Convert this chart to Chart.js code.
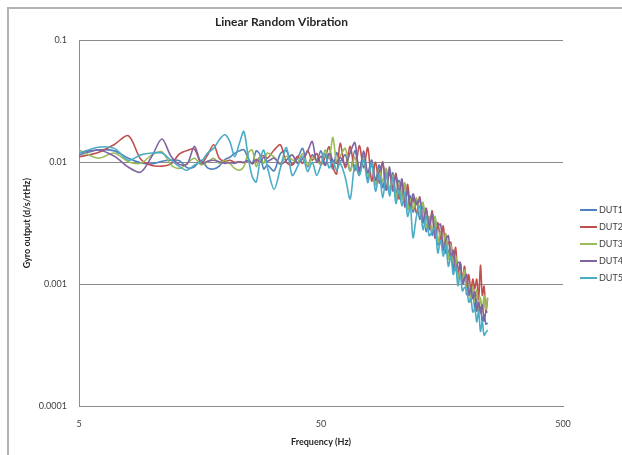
<!DOCTYPE html>
<html>
<head>
<meta charset="utf-8">
<script src="https://cdn.jsdelivr.net/npm/chart.js@4/dist/chart.umd.min.js"></script>
<style>
  html, body { margin: 0; padding: 0; background: #fff; }
  #wrap { position: relative; width: 622px; height: 455px; overflow: hidden; }
  #frame { position: absolute; left: 7px; top: 7px; width: 700px; height: 500px;
           border-top: 2px solid #b3b3b3; border-left: 2px solid #b3b3b3; }
  #plot { position: absolute; left: 0; top: 0; }
</style>
</head>
<body>
<div id="wrap">
  <div id="frame"></div>
  <canvas id="plot" width="622" height="455"></canvas>
</div>
<script>
// frequency bins (Hz)
const freqs = [5, 6, 7, 8, 9, 10, 11, 12, 13, 14, 15, 16, 17, 18, 19, 20, 21, 22, 23, 24, 25, 26, 27, 28, 29, 30,
  32, 34, 36, 38, 40, 42, 44, 46, 48, 50, 52, 54, 56, 58, 60,
  63, 66, 69, 72, 75, 78, 81, 84, 87, 90, 93, 96, 99, 102, 105, 108, 111, 114, 117, 120,
  124, 128, 132, 136, 140, 144, 148, 152, 156, 160, 164, 168, 172, 176, 180, 184, 188, 192, 196, 200,
  204, 208, 212, 216, 220, 224, 228, 232, 236, 240, 244];

const seriesNames = ['DUT1', 'DUT2', 'DUT3', 'DUT4', 'DUT5'];

const dut1 = [0.0115, 0.0126, 0.0124, 0.0108, 0.0099, 0.0097, 0.0102, 0.0104, 0.0103, 0.0090, 0.0092, 0.0104, 0.0090, 0.0088, 0.0093, 0.0105, 0.0110, 0.0118, 0.0124, 0.0127, 0.0108, 0.0098, 0.0124, 0.0115, 0.0088, 0.0095,
  0.0085, 0.0118, 0.0124, 0.0096, 0.0108, 0.0130, 0.0092, 0.0115, 0.0104, 0.0124, 0.0096, 0.0112, 0.0088, 0.0120, 0.0102,
  0.0115, 0.0085, 0.0125, 0.0088, 0.0114, 0.0073, 0.0096, 0.0071, 0.0095, 0.0062, 0.0085, 0.0058, 0.0082, 0.0055, 0.0071, 0.0052, 0.0065, 0.0041, 0.0053, 0.0039,
  0.0049, 0.0034, 0.0045, 0.0027, 0.0035, 0.0025, 0.0035, 0.0021, 0.0026, 0.0019, 0.0025, 0.0018, 0.0020, 0.0013, 0.0017, 0.0012, 0.0015, 0.0010, 0.0012, 0.00082,
  0.0010, 0.00080, 0.00097, 0.00063, 0.00075, 0.00060, 0.00065, 0.00049, 0.00056, 0.00047, 0.00048];

const dut2 = [0.0111, 0.0120, 0.0140, 0.0165, 0.0106, 0.0094, 0.0093, 0.0097, 0.0117, 0.0125, 0.0128, 0.0098, 0.0115, 0.0139, 0.0108, 0.0102, 0.0104, 0.0100, 0.0101, 0.0099, 0.0103, 0.0098, 0.0102, 0.0110, 0.0113, 0.0108,
  0.0126, 0.0139, 0.0100, 0.0095, 0.0112, 0.0098, 0.0125, 0.0104, 0.0118, 0.0096, 0.0110, 0.0134, 0.0092, 0.0080, 0.0143,
  0.0090, 0.0135, 0.0085, 0.0137, 0.0090, 0.0132, 0.0070, 0.0100, 0.0067, 0.0101, 0.0059, 0.0082, 0.0061, 0.0081, 0.0050, 0.0070, 0.0046, 0.0066, 0.0043, 0.0051,
  0.0038, 0.0052, 0.0032, 0.0042, 0.0028, 0.0040, 0.0024, 0.0032, 0.0023, 0.0030, 0.0018, 0.0022, 0.0022, 0.0015, 0.0020, 0.0012, 0.0015, 0.0011, 0.0014, 0.00092,
  0.0012, 0.00089, 0.0011, 0.00091, 0.0011, 0.00075, 0.00143, 0.00081, 0.00096, 0.00059, 0.00076];

const dut3 = [0.0126, 0.0108, 0.0119, 0.0101, 0.0098, 0.0115, 0.0122, 0.0095, 0.0089, 0.0098, 0.0108, 0.0095, 0.0101, 0.0108, 0.0098, 0.0104, 0.0098, 0.0089, 0.0086, 0.0092, 0.0119, 0.0126, 0.0092, 0.0111, 0.0098, 0.0119,
  0.0110, 0.0098, 0.0112, 0.0105, 0.0100, 0.0118, 0.0094, 0.0110, 0.0103, 0.0096, 0.0126, 0.0108, 0.0160, 0.0100, 0.0112,
  0.0130, 0.0085, 0.0110, 0.0078, 0.0119, 0.0077, 0.0100, 0.0065, 0.0087, 0.0070, 0.0089, 0.0057, 0.0078, 0.0051, 0.0068, 0.0049, 0.0068, 0.0041, 0.0050, 0.0041,
  0.0051, 0.0038, 0.0047, 0.0029, 0.0036, 0.0027, 0.0036, 0.0022, 0.0027, 0.0021, 0.0026, 0.0016, 0.0021, 0.0015, 0.0017, 0.0011, 0.0013, 0.0011, 0.0013, 0.00087,
  0.0010, 0.00071, 0.00097, 0.00071, 0.00090, 0.00060, 0.00078, 0.00059, 0.00081, 0.00062, 0.00078];

const dut4 = [0.0119, 0.0126, 0.0112, 0.0091, 0.0083, 0.0112, 0.0155, 0.0112, 0.0096, 0.0097, 0.0135, 0.0098, 0.0102, 0.0104, 0.0101, 0.0098, 0.0099, 0.0098, 0.0101, 0.0100, 0.0104, 0.0097, 0.0106, 0.0100, 0.0110, 0.0102,
  0.0108, 0.0096, 0.0104, 0.0115, 0.0098, 0.0107, 0.0123, 0.0148, 0.0100, 0.0112, 0.0094, 0.0118, 0.0104, 0.0098, 0.0110,
  0.0095, 0.0120, 0.0145, 0.0083, 0.0124, 0.0082, 0.0104, 0.0071, 0.0083, 0.0098, 0.0059, 0.0092, 0.0058, 0.0078, 0.0056, 0.0073, 0.0043, 0.0059, 0.0041, 0.0055,
  0.0045, 0.0050, 0.0032, 0.0041, 0.0030, 0.0038, 0.0024, 0.0030, 0.0031, 0.0019, 0.0023, 0.0025, 0.0016, 0.0019, 0.0013, 0.0015, 0.0015, 0.0010, 0.0011, 0.0012,
  0.00081, 0.00093, 0.00076, 0.00087, 0.00060, 0.00071, 0.00058, 0.00068, 0.00050, 0.00059, 0.00059];

const dut5 = [0.0119, 0.0133, 0.0130, 0.0104, 0.0115, 0.0119, 0.0119, 0.0104, 0.0092, 0.0086, 0.0095, 0.0101, 0.0119, 0.0130, 0.0153, 0.0168, 0.0148, 0.0111, 0.0143, 0.0179, 0.0111, 0.0076, 0.0069, 0.0104, 0.0126, 0.0092,
  0.0060, 0.0090, 0.0132, 0.0078, 0.0092, 0.0112, 0.0084, 0.0100, 0.0078, 0.0095, 0.0118, 0.0090, 0.0102, 0.0086, 0.0098,
  0.0075, 0.0050, 0.0095, 0.0078, 0.0105, 0.0068, 0.0100, 0.0058, 0.0079, 0.0051, 0.0078, 0.0053, 0.0075, 0.0046, 0.0059, 0.0044, 0.0057, 0.0036, 0.0043, 0.0024,
  0.0036, 0.0044, 0.0028, 0.0036, 0.0025, 0.0027, 0.0029, 0.0018, 0.0023, 0.0017, 0.0021, 0.0014, 0.0017, 0.0012, 0.0014, 0.00097, 0.0012, 0.00088, 0.00094, 0.00092,
  0.00071, 0.00076, 0.00059, 0.00063, 0.00049, 0.00060, 0.00041, 0.00049, 0.00038, 0.00040, 0.00042];

const seriesColors = ['#4f81bd', '#c0504d', '#9bbb59', '#8064a2', '#4bacc6'];

const xTicks = [5, 50, 500];
const yTicks = [0.0001, 0.001, 0.01, 0.1];
const yTickLabels = ['0.0001', '0.001', '0.01', '0.1'];

const FONT = 'Lato, "Open Sans", sans-serif';
const gridGray = '#8c8c8c';
const textGray = '#404040';

const allSeries = [dut1, dut2, dut3, dut4, dut5];
const datasets = allSeries.map((vals, i) => ({
  label: seriesNames[i],
  data: freqs.map((f, j) => ({ x: f, y: vals[j] })),
  borderColor: seriesColors[i],
  borderWidth: 1.6,
  pointRadius: 0,
  tension: 0.3,
  fill: false,
  order: allSeries.length - i   // last series ends up on top
}));

// legend drawn as a plain column to the right of the plot
const sideLegend = {
  id: 'sideLegend',
  afterDraw(chart) {
    const ctx = chart.ctx;
    ctx.save();
    ctx.font = '9px ' + FONT;
    ctx.textBaseline = 'middle';
    ctx.textAlign = 'left';
    chart.data.datasets.forEach((ds, i) => {
      const y = 210 + i * 17;
      ctx.strokeStyle = ds.borderColor;
      ctx.lineWidth = 2;
      ctx.beginPath();
      ctx.moveTo(580, y);
      ctx.lineTo(597, y);
      ctx.stroke();
      ctx.fillStyle = textGray;
      ctx.fillText(ds.label, 599, y + 0.5);
    });
    ctx.restore();
  }
};

new Chart(document.getElementById('plot'), {
  type: 'line',
  data: { datasets },
  plugins: [sideLegend],
  options: {
    responsive: false,
    animation: false,
    devicePixelRatio: 1,
    layout: { padding: { left: 0, right: 59, top: 0, bottom: 0 } },
    plugins: {
      legend: { display: false },
      tooltip: { enabled: false },
      title: {
        display: true,
        text: 'Linear Random Vibration',
        color: '#262626',
        font: { family: FONT, size: 12, weight: 'bold' },
        padding: { top: 15, bottom: 11 }
      }
    },
    scales: {
      x: {
        type: 'logarithmic',
        min: 5,
        max: 500,
        afterBuildTicks: (s) => { s.ticks = xTicks.map(v => ({ value: v })); },
        afterFit: (s) => { s.height = 49; },
        grid: { display: false, drawTicks: false },
        border: { display: true, color: gridGray, width: 1 },
        ticks: {
          color: textGray,
          font: { family: FONT, size: 9 },
          padding: 13,
          maxRotation: 0,
          autoSkip: false,
          callback: (v) => String(v)
        },
        title: {
          display: true,
          text: 'Frequency (Hz)',
          color: '#262626',
          font: { family: FONT, size: 9, weight: 'bold' },
          padding: { top: 0, bottom: 8 }
        }
      },
      y: {
        type: 'logarithmic',
        min: 0.0001,
        max: 0.1,
        afterBuildTicks: (s) => { s.ticks = yTicks.map(v => ({ value: v })); },
        afterFit: (s) => { s.width = 79; },
        grid: { color: gridGray, lineWidth: 1, drawTicks: false },
        border: { display: true, color: gridGray, width: 1 },
        ticks: {
          color: textGray,
          font: { family: FONT, size: 9 },
          padding: 12,
          autoSkip: false,
          callback: (v) => yTickLabels[yTicks.indexOf(v)] ?? ''
        },
        title: {
          display: true,
          text: 'Gyro output (d/s/rtHz)',
          color: '#262626',
          font: { family: FONT, size: 9, weight: 'bold' },
          padding: { top: 22, bottom: 0 }
        }
      }
    }
  }
});
</script>
</body>
</html>
